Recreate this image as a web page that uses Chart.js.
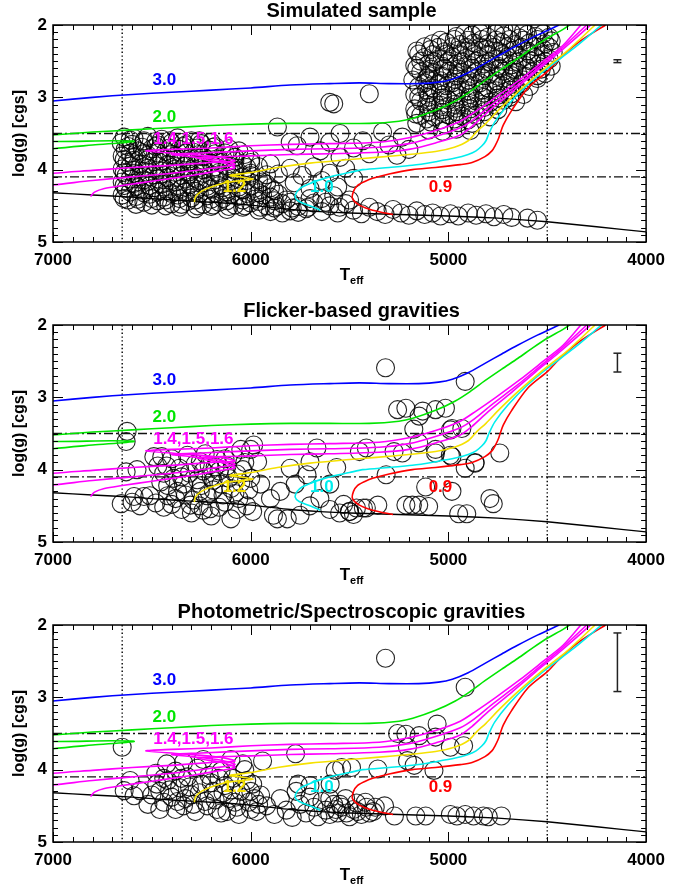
<!DOCTYPE html>
<html>
<head>
<meta charset="utf-8">
<script src="https://cdn.jsdelivr.net/npm/chart.js@4.4.1/dist/chart.umd.min.js"></script>
<style>
  html, body { margin: 0; padding: 0; background: #fff; }
  .panel { position: absolute; left: 0; }
</style>
</head>
<body>
<canvas id="c1" class="panel" width="673" height="290" style="top:0px"></canvas>
<canvas id="c2" class="panel" width="673" height="290" style="top:300px"></canvas>
<canvas id="c3" class="panel" width="673" height="290" style="top:600px"></canvas>
<script>
// axis ticks
var xTicks = [7000, 6000, 5000, 4000];
var yTicks = [2, 3, 4, 5];

// evolutionary tracks [Teff, logg]
var zams = [[7000,4.32],[6800,4.35],[6600,4.38],[6400,4.42],[6200,4.45],[6000,4.49],[5800,4.55],[5650,4.58],[5500,4.60],[5250,4.62],[5000,4.64],[4750,4.67],[4500,4.72],[4250,4.79],[4000,4.86]];
var track30 = [[7000,3.05],[6800,3.00],[6600,2.96],[6400,2.93],[6200,2.90],[6000,2.87],[5800,2.83],[5600,2.81],[5450,2.80],[5300,2.81],[5150,2.81],[5050,2.79],[4980,2.75],[4900,2.66],[4815,2.53],[4730,2.40],[4650,2.28],[4550,2.14],[4440,2.0]];
var track20 = [[7150,3.76],[7000,3.71],[6800,3.66],[6590,3.61],[6700,3.60],[7000,3.61],[7150,3.58],[7150,3.54],[7000,3.52],[6800,3.48],[6600,3.45],[6400,3.42],[6200,3.39],[6000,3.37],[5800,3.36],[5600,3.36],[5400,3.36],[5250,3.33],[5180,3.29],[5065,3.18],[4965,3.05],[4890,2.92],[4815,2.77],[4730,2.61],[4648,2.46],[4570,2.31],[4498,2.18],[4420,2.06],[4370,1.97]];
var track16 = [[7100,4.08],[7000,4.05],[6800,4.01],[6600,3.97],[6400,3.94],[6200,3.90],[6080,3.88],[6150,3.83],[6350,3.78],[6530,3.74],[6400,3.72],[6200,3.70],[6000,3.67],[5800,3.65],[5600,3.64],[5350,3.62],[5200,3.56],[5065,3.46],[4940,3.33],[4860,3.19],[4760,3.00],[4640,2.76],[4520,2.50],[4420,2.28],[4330,2.0]];
var track15 = [[7100,4.23],[7000,4.21],[6800,4.15],[6600,4.10],[6400,4.05],[6200,3.98],[6080,3.93],[6150,3.87],[6300,3.82],[6400,3.79],[6250,3.77],[6000,3.74],[5800,3.72],[5600,3.71],[5350,3.69],[5200,3.64],[5065,3.54],[4940,3.42],[4870,3.30],[4780,3.10],[4660,2.85],[4540,2.58],[4430,2.33],[4300,2.0]];
var track14 = [[6810,4.37],[6790,4.31],[6740,4.26],[6650,4.22],[6500,4.16],[6300,4.08],[6150,4.01],[6080,3.97],[6130,3.91],[6270,3.84],[6150,3.82],[6000,3.81],[5800,3.79],[5600,3.78],[5350,3.76],[5200,3.72],[5065,3.63],[4940,3.52],[4880,3.40],[4800,3.20],[4680,2.93],[4560,2.65],[4440,2.38],[4280,2.0]];
var track12 = [[6285,4.45],[6280,4.38],[6255,4.31],[6200,4.24],[6130,4.18],[6050,4.15],[5985,4.13],[6050,4.10],[6105,4.08],[6000,4.04],[5865,3.97],[5700,3.91],[5500,3.86],[5365,3.83],[5200,3.79],[5065,3.75],[4970,3.69],[4900,3.60],[4855,3.47],[4810,3.36],[4740,3.16],[4640,2.90],[4520,2.62],[4400,2.36],[4258,2.0]];
var track10 = [[5648,4.56],[5700,4.50],[5755,4.44],[5775,4.38],[5765,4.30],[5740,4.24],[5700,4.19],[5615,4.11],[5500,4.04],[5433,4.00],[5300,3.97],[5182,3.94],[5065,3.89],[4965,3.84],[4900,3.79],[4860,3.74],[4830,3.67],[4810,3.60],[4795,3.50],[4765,3.34],[4700,3.11],[4600,2.83],[4500,2.60],[4365,2.32],[4225,2.0]];
var track09 = [[5280,4.62],[5383,4.56],[5450,4.49],[5485,4.40],[5480,4.30],[5460,4.22],[5420,4.16],[5383,4.12],[5300,4.06],[5182,4.00],[5065,3.97],[4940,3.93],[4880,3.90],[4815,3.82],[4780,3.74],[4762,3.66],[4748,3.58],[4738,3.50],[4722,3.38],[4682,3.19],[4598,2.87],[4498,2.64],[4432,2.45],[4332,2.22],[4205,2.0]];

// stars [Teff, logg]
var simStars = [
[6640,3.55],[6590,3.57],[6520,3.54],[6450,3.58],[6370,3.56],[6300,3.60],
[6610,3.59],[6540,3.60],[6480,3.61],[6410,3.60],[6340,3.62],[6260,3.60],[6200,3.62],
[6655,3.63],[6600,3.65],[6540,3.62],[6470,3.66],[6400,3.63],[6330,3.66],[6250,3.64],[6180,3.68],
[6620,3.68],[6550,3.69],[6480,3.68],[6410,3.70],[6340,3.68],[6270,3.70],[6190,3.69],[6110,3.71],
[6635,3.72],[6570,3.74],[6500,3.71],[6430,3.75],[6360,3.72],[6290,3.76],[6210,3.73],[6130,3.77],[6060,3.74],
[6610,3.77],[6540,3.78],[6470,3.77],[6400,3.79],[6330,3.77],[6260,3.79],[6180,3.78],[6100,3.80],[6030,3.79],
[6650,3.81],[6590,3.83],[6520,3.80],[6450,3.84],[6380,3.81],[6310,3.85],[6240,3.82],[6160,3.86],[6080,3.83],[6000,3.86],
[6640,3.86],[6590,3.87],[6520,3.86],[6450,3.88],[6380,3.86],[6310,3.88],[6240,3.87],[6160,3.89],[6080,3.88],[6000,3.90],
[6625,3.90],[6560,3.92],[6490,3.89],[6420,3.93],[6350,3.90],[6280,3.94],[6200,3.91],[6120,3.95],[6040,3.92],[5960,3.96],
[6610,3.95],[6540,3.96],[6470,3.95],[6400,3.97],[6330,3.95],[6260,3.97],[6180,3.96],[6100,3.98],[6020,3.97],
[6650,3.99],[6590,4.01],[6520,3.98],[6450,4.02],[6380,3.99],[6310,4.03],[6240,4.00],[6160,4.04],[6080,4.01],[6000,4.05],
[6640,4.04],[6590,4.05],[6520,4.04],[6450,4.06],[6380,4.04],[6310,4.06],[6240,4.05],[6160,4.07],[6080,4.06],[6000,4.08],[5920,4.07],
[6630,4.08],[6560,4.10],[6490,4.07],[6420,4.11],[6350,4.08],[6280,4.12],[6200,4.09],[6120,4.13],[6040,4.10],[5960,4.14],
[6610,4.13],[6540,4.14],[6470,4.13],[6400,4.15],[6330,4.13],[6260,4.15],[6180,4.14],[6100,4.16],[6020,4.15],[5940,4.17],
[6650,4.17],[6590,4.19],[6520,4.16],[6450,4.20],[6380,4.17],[6310,4.21],[6240,4.18],[6160,4.22],[6080,4.19],[6000,4.23],[5920,4.20],
[6640,4.22],[6580,4.23],[6510,4.22],[6440,4.24],[6370,4.22],[6300,4.24],[6220,4.23],[6140,4.25],[6060,4.24],[5980,4.26],[5900,4.25],
[6630,4.26],[6560,4.28],[6490,4.25],[6420,4.29],[6350,4.26],[6280,4.30],[6200,4.27],[6120,4.31],[6040,4.28],[5960,4.32],[5880,4.29],
[6610,4.31],[6540,4.32],[6470,4.31],[6400,4.33],[6330,4.31],[6260,4.33],[6180,4.32],[6100,4.34],[6020,4.33],[5940,4.35],[5860,4.34],
[6650,4.35],[6580,4.37],[6510,4.34],[6440,4.38],[6370,4.35],[6300,4.39],[6220,4.36],[6140,4.40],[6060,4.37],[5980,4.41],[5900,4.38],[5820,4.42],
[6640,4.40],[6570,4.41],[6500,4.40],[6430,4.42],[6360,4.40],[6280,4.42],[6200,4.41],[6120,4.43],[6040,4.42],[5960,4.44],[5880,4.43],[5800,4.45],
[6620,4.42],[6540,4.45],[6470,4.43],[6400,4.47],[6320,4.44],[6240,4.48],[6160,4.45],[6080,4.49],[6000,4.46],[5920,4.50],[5840,4.47],[5760,4.51],
[6580,4.48],[6500,4.49],[6430,4.50],[6350,4.48],[6270,4.50],[6190,4.49],[6110,4.51],[6030,4.50],[5950,4.52],[5870,4.51],[5790,4.53],[5710,4.52],
[6360,4.52],[6280,4.54],[6200,4.51],[6120,4.55],[6040,4.52],[5960,4.56],[5880,4.53],[5800,4.57],[5720,4.54],[5640,4.58],
[5900,4.58],[5840,4.60],[5760,4.59],[5700,4.40],[5620,4.45],[5550,4.52],
[5680,4.46],[5600,4.50],[5560,4.60],[5520,4.47],[5480,4.56],[5440,4.61],[5400,4.52],[5360,4.58],[5320,4.62],[5280,4.55],[5240,4.60],[5200,4.63],[5160,4.57],[5120,4.62],[5080,4.60],[5040,4.64],[5640,4.40],[5580,4.36],[5500,4.42],
[4990,4.61],[4950,4.64],[4900,4.60],[4860,4.63],[4810,4.61],[4770,4.65],[4720,4.62],[4680,4.66],[4600,4.67],[4550,4.70],
[5900,3.92],[5860,4.06],[5800,3.98],[5780,4.18],[5740,4.08],[5700,4.26],[5680,3.96],[5640,4.15],[5600,4.05],[5560,4.24],[5520,3.98],[5480,4.12],
[5865,3.41],[5800,3.62],[5765,3.67],[5700,3.55],[5648,3.74],[5600,3.62],[5548,3.50],[5548,3.83],[5480,3.70],[5433,3.60],[5400,3.78],[5333,3.48],[5300,3.66],[5260,3.80],[5233,3.55],[5200,3.72],[5165,3.23],[5150,3.00],[5100,2.76],[5600,3.07],[5580,3.09],[5400,2.95],
[4830,2.08],[4720,2.06],[4620,2.09],[4540,2.07],
[4920,2.12],[4840,2.11],[4760,2.12],[4680,2.11],[4600,2.13],[4520,2.12],
[4960,2.16],[4880,2.14],[4800,2.17],[4720,2.15],[4640,2.18],[4560,2.16],[4490,2.17],
[5040,2.21],[4970,2.20],[4900,2.21],[4830,2.20],[4760,2.21],[4690,2.20],[4620,2.21],[4550,2.20],[4480,2.22],
[5080,2.26],[5010,2.24],[4940,2.27],[4870,2.25],[4800,2.26],[4730,2.24],[4660,2.27],[4590,2.25],[4510,2.26],
[5120,2.30],[5050,2.31],[4980,2.30],[4910,2.31],[4840,2.30],[4770,2.31],[4700,2.30],[4630,2.31],[4560,2.30],[4490,2.31],
[5160,2.36],[5090,2.34],[5020,2.37],[4950,2.35],[4880,2.36],[4810,2.34],[4740,2.37],[4670,2.35],[4600,2.36],[4520,2.34],[4470,2.38],
[5150,2.40],[5080,2.41],[5010,2.40],[4940,2.41],[4870,2.40],[4800,2.41],[4730,2.40],[4660,2.41],[4590,2.40],[4520,2.41],
[5120,2.45],[5050,2.47],[4980,2.44],[4910,2.46],[4840,2.45],[4770,2.47],[4700,2.44],[4630,2.46],[4560,2.45],[4490,2.47],
[5140,2.50],[5070,2.51],[5000,2.50],[4930,2.51],[4860,2.50],[4790,2.51],[4720,2.50],[4650,2.51],[4580,2.50],[4510,2.51],
[5170,2.56],[5100,2.54],[5030,2.57],[4960,2.55],[4890,2.56],[4820,2.54],[4750,2.57],[4680,2.55],[4610,2.56],[4540,2.54],[4480,2.57],
[5160,2.60],[5090,2.61],[5020,2.60],[4950,2.61],[4880,2.60],[4810,2.61],[4740,2.60],[4670,2.61],[4600,2.60],[4530,2.61],
[5140,2.65],[5070,2.67],[5000,2.64],[4930,2.66],[4860,2.65],[4790,2.67],[4720,2.64],[4650,2.66],[4580,2.65],[4510,2.67],
[5100,2.70],[5030,2.71],[4960,2.70],[4890,2.71],[4820,2.70],[4750,2.71],[4680,2.70],[4610,2.71],[4550,2.70],
[5180,2.76],[5110,2.74],[5040,2.77],[4970,2.75],[4900,2.76],[4830,2.74],[4760,2.77],[4690,2.75],[4620,2.76],[4550,2.74],
[5120,2.80],[5050,2.81],[4980,2.80],[4910,2.81],[4840,2.80],[4770,2.81],[4700,2.80],[4630,2.81],
[5150,2.85],[5080,2.87],[5010,2.84],[4940,2.86],[4870,2.85],[4800,2.87],[4730,2.84],[4660,2.86],[4590,2.85],
[5110,2.90],[5040,2.91],[4970,2.90],[4900,2.91],[4830,2.90],[4760,2.91],[4690,2.90],
[5170,2.96],[5100,2.94],[5030,2.97],[4960,2.95],[4890,2.96],[4820,2.94],[4750,2.97],[4680,2.95],[4620,2.96],
[5100,3.00],[5030,3.01],[4960,3.00],[4890,3.01],[4820,3.00],[4750,3.01],[4690,3.00],
[5140,3.05],[5070,3.07],[5000,3.04],[4930,3.06],[4860,3.05],[4790,3.07],[4720,3.04],[4660,3.06],
[5110,3.10],[5040,3.11],[4970,3.10],[4900,3.11],[4830,3.10],[4760,3.11],
[5170,3.16],[5100,3.14],[5030,3.17],[4960,3.15],[4890,3.16],[4820,3.14],[4750,3.17],
[5100,3.20],[5030,3.21],[4960,3.20],[4890,3.21],[4820,3.20],
[5140,3.25],[5070,3.27],[5000,3.24],[4930,3.26],[4860,3.25],[4790,3.27],
[5110,3.30],[5040,3.31],[4970,3.30],[4900,3.31],
[5160,3.36],[5090,3.34],[5020,3.37],[4950,3.35],[4880,3.36],
[5100,3.45],[5030,3.47],[4960,3.44],[4890,3.46]
];
var flickerStars = [
[6625,3.47],[6630,3.61],[6630,4.03],[6575,4.00],[6655,4.47],[6590,4.37],[6540,4.37],[6510,4.36],[6490,3.82],[6450,3.82],[6425,3.95],[6455,4.17],[6420,4.36],[6380,4.40],[6350,4.10],[6330,4.35],[6305,4.49],[6255,3.89],[6255,4.30],[6205,4.54],[6190,4.15],[6180,3.96],[6130,3.85],[6130,4.45],[6080,4.33],[6040,4.00],[6050,3.72],[6020,4.50],[6000,3.72],
[6470,3.95],[6440,4.05],[6420,4.22],[6400,3.85],[6390,4.12],[6370,4.30],[6360,3.98],[6340,4.20],[6320,3.80],[6310,4.05],[6290,4.42],[6280,3.92],[6270,4.14],[6250,4.22],[6240,4.02],[6230,3.78],[6220,4.36],[6210,3.94],[6200,4.10],[6190,4.28],[6170,3.86],[6160,4.02],[6150,4.20],[6140,4.35],[6120,3.95],[6110,4.12],[6100,4.26],[6090,3.80],[6070,4.06],[6060,4.40],[6050,4.18],[6030,3.90],[6010,4.28],
[6600,4.45],[6560,4.50],[6480,4.46],[6440,4.52],[6400,4.48],[6350,4.55],[6300,4.60],[6260,4.50],[6240,4.56],[6200,4.64],[6160,4.52],[6100,4.68],[6070,4.55],[5990,4.58],
[5985,3.66],[5965,3.89],[6000,4.12],[5950,4.20],[5900,4.40],[5885,4.63],[5800,3.98],[5775,4.20],[5750,4.63],[5715,4.07],[5700,3.89],[5665,3.70],[5650,4.40],[5600,4.20],[5565,3.97],[5530,4.48],[5465,4.53],[5430,4.53],[5450,3.75],[5415,3.70],[5415,4.53],[5865,4.68],[5815,4.68],[5850,4.30],[5700,4.50],[5600,4.55],[5550,4.60],[5500,4.58],[5480,4.62],
[5318,2.59],[4915,2.78],[5257,3.17],[5148,3.26],[5065,3.17],[5175,3.44],[4982,3.43],[4932,3.43],[5275,3.75],[5315,4.07],[5182,4.49],[5150,4.49],[5215,4.49],[5233,3.77],[5065,3.77],[4982,3.82],[4915,3.98],[4865,3.90],[4740,3.77],[4790,4.40],[4773,4.47],[4948,4.61],[4907,4.61],[5115,4.24],[4982,4.30],[5357,4.49],[5500,4.58],[5215,3.15],[5130,3.19],[5150,3.63],[5100,4.51],[5015,3.15],[4990,3.45],[5065,3.72],[4990,3.80],[4865,3.91]
];
var photStars = [
[6650,3.69],[6610,4.15],[6640,4.29],[6590,4.36],[6560,4.29],[6475,4.20],[6425,3.92],[6340,3.90],[6240,3.86],[6100,3.86],[6040,3.92],[5940,3.88],[5773,3.78],[5573,4.01],
[6480,4.05],[6460,4.30],[6440,4.45],[6420,4.15],[6400,4.38],[6380,4.02],[6360,4.25],[6340,4.50],[6320,4.10],[6300,4.35],[6280,4.58],[6270,3.98],[6250,4.20],[6230,4.44],[6210,4.08],[6190,4.30],[6170,4.55],[6150,4.02],[6130,4.22],[6110,4.40],[6090,4.12],[6070,4.52],[6050,4.30],[6030,4.00],[6010,4.45],[5990,4.20],[5970,4.58],[5950,4.35],[6460,4.55],[6380,4.55],[6330,4.40],[6260,4.32],[6180,4.42],[6120,4.58],[6060,4.62],[6000,4.55],[6500,4.35],[6520,4.48],[6440,4.12],[6350,4.12],[6200,4.18],[6150,4.60],[6100,4.28],[6020,4.15],[5980,4.40],
[6410,4.28],[6310,4.24],[6220,4.50],[6140,4.32],[6080,4.45],[6000,4.30],[6370,4.44],[6290,4.48],[6160,4.12],[5960,4.48],
[5920,4.50],[5880,4.62],[5850,4.40],[5820,4.56],[5790,4.66],[5770,4.30],[5750,4.48],[5720,4.60],[5700,4.38],[5680,4.52],[5660,4.65],[5640,4.44],[5620,4.56],[5600,4.62],[5580,4.48],[5560,4.60],[5540,4.52],[5760,4.20],[5700,4.22],
[5318,2.46],[4915,2.86],[5257,3.50],[5215,3.51],[5148,3.53],[5057,3.37],[5065,3.55],[5207,3.69],[4990,3.69],[4923,3.67],[5207,3.875],[5173,3.94],[5357,3.99],[5490,3.97],[5540,3.97],[5073,4.01],[5598,4.20],[5323,4.50],[5273,4.64],[5165,4.64],[5115,4.64],[4990,4.62],[4957,4.64],[4915,4.62],[4873,4.64],[4823,4.64],[4798,4.65],[4732,4.64],[5548,4.48],[5465,4.46],[5415,4.52],[5515,4.60],[5480,4.55],[5440,4.62],[5380,4.58],
[5600,4.40],[5570,4.55],[5520,4.40],[5500,4.65],[5460,4.58],[5420,4.45],[5400,4.60],[5370,4.52]
];

// typical error bars: [Teff, logg centre, half length]
var errSim = [4145, 2.50, 0.02];
var errFlicker = [4145, 2.52, 0.13];
var errPhot = [4145, 2.515, 0.405];

// reference lines
var vLines = [6650, 4500];
var hLines = [3.5, 4.1];

var FONT = '"Liberation Sans", Arial, Helvetica, sans-serif';
var BLUE = '#0000ff', GREEN = '#00e600', MAGENTA = '#ff00ff', YELLOW = '#f5e100', CYAN = '#00eeee', RED = '#ff0000';

var trackLabels = [
  { text: '3.0', t: 6437, g: 2.77, color: BLUE },
  { text: '2.0', t: 6437, g: 3.27, color: GREEN },
  { text: '1.4,1.5,1.6', t: 6290, g: 3.58, color: MAGENTA },
  { text: '1.2', t: 6082, g: 4.24, color: YELLOW },
  { text: '1.0', t: 5640, g: 4.24, color: CYAN },
  { text: '0.9', t: 5040, g: 4.24, color: RED }
];

function xy(list) {
  return list.map(function(p) { return { x: p[0], y: p[1] }; });
}

function trackSet(list, color) {
  return { data: xy(list), showLine: true, borderColor: color, borderWidth: 1.6, pointRadius: 0, tension: 0.3, order: 1 };
}

var decor = {
  id: 'decor',
  afterDatasetsDraw: function(chart, args, opts) {
    var ctx = chart.ctx, ca = chart.chartArea;
    var xs = chart.scales.x, ys = chart.scales.y;
    ctx.save();
    ctx.strokeStyle = '#000';
    ctx.lineWidth = 1.5;
    ctx.strokeRect(ca.left, ca.top, ca.right - ca.left, ca.bottom - ca.top);
    ctx.lineWidth = 1;
    ctx.beginPath();
    for (var t = 4000; t <= 7000; t += 100) {
      var px = Math.round(xs.getPixelForValue(t)) + 0.5;
      var len = (t % 1000 === 0) ? 10 : 5;
      ctx.moveTo(px, ca.bottom); ctx.lineTo(px, ca.bottom - len);
      ctx.moveTo(px, ca.top); ctx.lineTo(px, ca.top + len);
    }
    for (var k = 20; k <= 50; k++) {
      var py = Math.round(ys.getPixelForValue(k / 10)) + 0.5;
      var l2 = (k % 10 === 0) ? 10 : 5;
      ctx.moveTo(ca.left, py); ctx.lineTo(ca.left + l2, py);
      ctx.moveTo(ca.right, py); ctx.lineTo(ca.right - l2, py);
    }
    ctx.stroke();

    // mass labels
    ctx.font = 'bold 17px ' + FONT;
    ctx.textAlign = 'center';
    ctx.textBaseline = 'middle';
    trackLabels.forEach(function(lb) {
      ctx.fillStyle = lb.color;
      ctx.fillText(lb.text, xs.getPixelForValue(lb.t), ys.getPixelForValue(lb.g));
    });

    // title
    ctx.fillStyle = '#000';
    ctx.textBaseline = 'alphabetic';
    ctx.font = 'bold 20px ' + FONT;
    ctx.fillText(opts.title, (ca.left + ca.right) / 2 + 2, opts.titleY);

    // x axis title T_eff
    ctx.font = 'bold 17px ' + FONT;
    var wT = ctx.measureText('T').width;
    ctx.font = 'bold 11px ' + FONT;
    var wE = ctx.measureText('eff').width;
    var x0 = (ca.left + ca.right) / 2 + 2 - (wT + wE) / 2;
    ctx.textAlign = 'left';
    ctx.font = 'bold 17px ' + FONT;
    ctx.fillText('T', x0, 280);
    ctx.font = 'bold 11px ' + FONT;
    ctx.fillText('eff', x0 + wT, 284);

    // y axis title
    ctx.translate(20, (ca.top + ca.bottom) / 2);
    ctx.rotate(-Math.PI / 2);
    ctx.textAlign = 'center';
    ctx.textBaseline = 'middle';
    ctx.font = 'bold 16px ' + FONT;
    ctx.fillText('log(g) [cgs]', 0, 0);
    ctx.restore();
  }
};

function makePanel(id, title, titleY, stars, err) {
  var datasets = [
    trackSet(track30, BLUE),
    trackSet(track20, GREEN),
    trackSet(track16, MAGENTA),
    trackSet(track15, MAGENTA),
    trackSet(track14, MAGENTA),
    trackSet(track12, YELLOW),
    trackSet(track10, CYAN),
    trackSet(track09, RED),
    { data: xy(zams), showLine: true, borderColor: '#000', borderWidth: 1.4, pointRadius: 0, tension: 0.2, order: 2 }
  ];
  vLines.forEach(function(v) {
    datasets.push({ data: [{ x: v, y: 2 }, { x: v, y: 5 }], showLine: true, borderColor: '#000', borderWidth: 1.4, borderDash: [1.4, 2.4], pointRadius: 0, order: 3 });
  });
  hLines.forEach(function(h) {
    datasets.push({ data: [{ x: 7000, y: h }, { x: 4000, y: h }], showLine: true, borderColor: '#111', borderWidth: 1.3, borderDash: [9, 3, 2, 3], pointRadius: 0, order: 3 });
  });
  datasets.push({
    data: [{ x: err[0], y: err[1] - err[2] }, { x: err[0], y: err[1] + err[2] }],
    showLine: true, borderColor: '#222', borderWidth: 1.5,
    pointStyle: 'line', pointRadius: 4, pointBorderWidth: 1.5, pointBorderColor: '#222', order: 3
  });
  datasets.push({
    data: xy(stars), showLine: false, pointRadius: 9, pointBorderWidth: 1.1,
    borderColor: 'rgba(0,0,0,0.85)', backgroundColor: 'rgba(0,0,0,0)', order: 10
  });

  new Chart(document.getElementById(id).getContext('2d'), {
    type: 'scatter',
    data: { datasets: datasets },
    plugins: [decor],
    options: {
      responsive: false,
      animation: false,
      events: [],
      layout: { padding: { left: 0, right: 19, top: 25, bottom: 0 } },
      plugins: {
        legend: { display: false },
        tooltip: { enabled: false },
        decor: { title: title, titleY: titleY }
      },
      scales: {
        x: {
          type: 'linear', min: 4000, max: 7000, reverse: true,
          grid: { display: false, drawTicks: false }, border: { display: false },
          afterBuildTicks: function(s) { s.ticks = xTicks.map(function(v) { return { value: v }; }); },
          afterFit: function(s) { s.height = 48; },
          ticks: { padding: 8, color: '#000', maxRotation: 0, font: { family: FONT, size: 17, weight: 'bold' },
                   callback: function(v) { return String(v); } }
        },
        y: {
          type: 'linear', min: 2, max: 5, reverse: true,
          grid: { display: false, drawTicks: false }, border: { display: false },
          afterBuildTicks: function(s) { s.ticks = yTicks.map(function(v) { return { value: v }; }); },
          afterFit: function(s) { s.width = 53; },
          ticks: { padding: 6, color: '#000', font: { family: FONT, size: 17, weight: 'bold' },
                   callback: function(v) { return String(v); } }
        }
      }
    }
  });
}

makePanel('c1', 'Simulated sample', 17, simStars, errSim);
makePanel('c2', 'Flicker-based gravities', 17, flickerStars, errFlicker);
makePanel('c3', 'Photometric/Spectroscopic gravities', 18, photStars, errPhot);
</script>
</body>
</html>
